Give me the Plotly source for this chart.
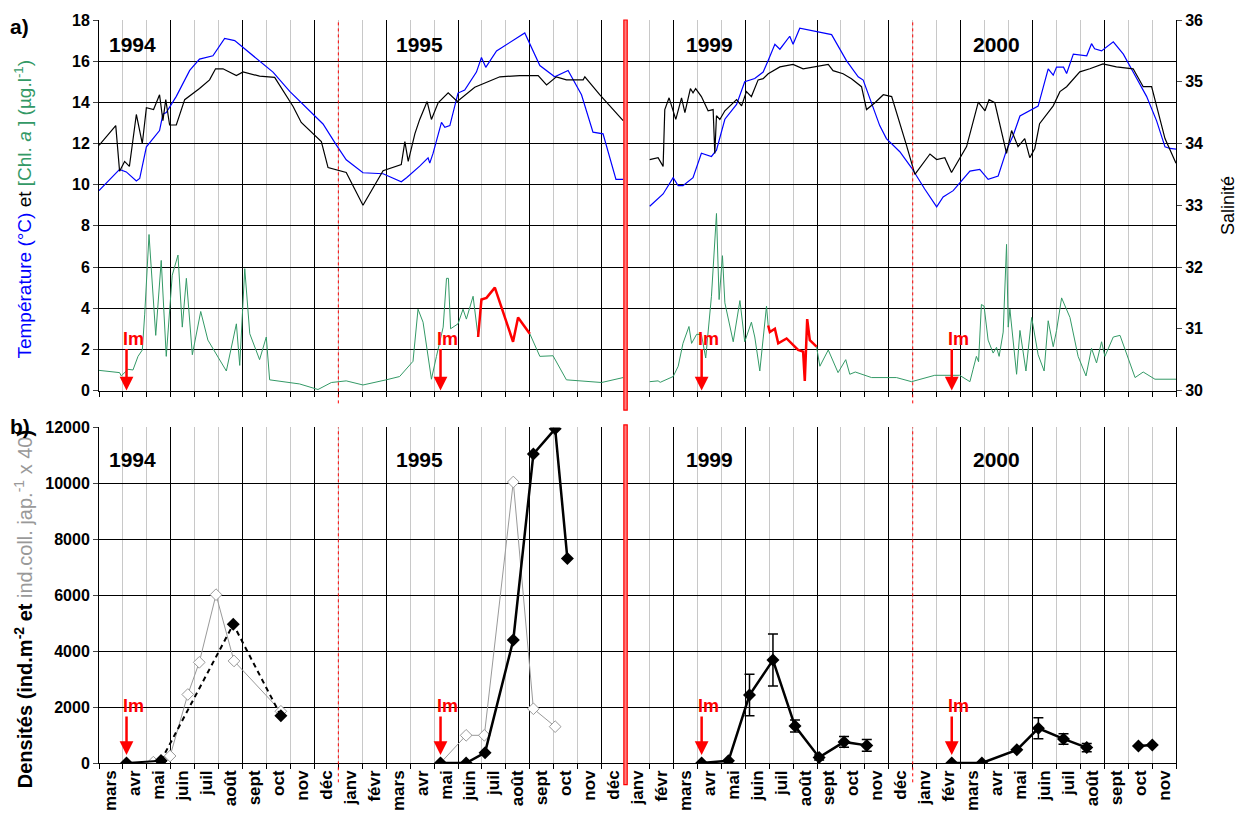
import plotly.graph_objects as go

FONT = "Liberation Sans, Arial, sans-serif"

# x positions are in months counted from 1 March 1994 (0 = start of "mars" 1994);
# the axis is broken between déc 1995 (index 21) and janv 1999 (index 22).
months = ["mars", "avr", "mai", "juin", "juil", "août", "sept", "oct", "nov", "déc",
          "janv", "févr", "mars", "avr", "mai", "juin", "juil", "août", "sept", "oct", "nov", "déc",
          "janv", "févr", "mars", "avr", "mai", "juin", "juil", "août", "sept", "oct", "nov", "déc",
          "janv", "févr", "mars", "avr", "mai", "juin", "juil", "août", "sept", "oct", "nov"]
quarter_months = ["mars", "juin", "sept", "déc"]
year_break = 22
new_year = [10, 34]

years = ["1994", "1995", "1999", "2000"]
year_x = [1.4, 13.4, 25.5, 37.5]
im_x = [1.15, 14.27, 25.18, 35.63]

# ---- a) temperature (°C) ----
temp_9495_x = [0, 0.86, 1.14, 1.56, 1.7, 1.98, 2.53, 2.67, 2.81, 3.23, 3.79, 4.2, 4.76, 5.25, 5.67,
               6.43, 7.27, 7.97, 8.94, 9.36, 9.92, 10.33, 11.03, 11.87, 12.63, 12.85, 13.4, 13.75,
               13.82, 13.96, 14.31, 14.45, 14.66, 15.0, 15.28, 15.77, 15.98, 16.16, 16.61, 17.79,
               18.42, 19.04, 19.6, 20.16, 20.64, 21.06, 21.6, 21.9]
temp_9495 = [9.71, 10.74, 10.62, 10.18, 10.3, 11.84, 12.63, 13.42, 13.5, 14.29, 15.55, 16.1, 16.26,
             17.1, 17.0, 16.26, 15.47, 14.53, 13.42, 12.95, 11.92, 11.21, 10.58, 10.53, 10.14, 10.34,
             10.9, 11.3, 11.05, 11.53, 13.03, 12.79, 12.87, 14.45, 14.6, 15.47, 16.18, 15.7, 16.5,
             17.37, 15.79, 15.24, 15.55, 14.37, 12.55, 12.47, 10.26, 10.26]
temp_9900_x = [23.01, 23.57, 23.99, 24.2, 24.4, 24.82, 25.17, 25.59, 25.8, 26.15, 26.64, 26.98, 27.4,
               27.75, 27.96, 28.24, 28.45, 28.86, 29.0, 29.28, 30.61, 31.23, 31.72, 31.93, 32.62,
               32.9, 33.46, 33.95, 34.5, 35.0, 35.27, 35.69, 36.39, 36.8, 37.15, 37.57, 37.92, 38.2,
               38.48, 38.89, 39.24, 39.66, 39.87, 40.01, 40.3, 40.43, 40.71, 41.27, 41.47, 41.6,
               41.89, 42.38, 42.8, 43.21, 43.77, 44.19, 44.54, 44.75, 45.0]
temp_9900 = [8.95, 9.55, 10.34, 9.95, 9.95, 10.34, 11.53, 11.37, 11.68, 13.18, 13.9, 15.0, 15.16,
             15.47, 16.03, 16.82, 16.58, 17.21, 16.82, 17.6, 17.29, 16.03, 15.24, 15.08, 12.87,
             12.24, 11.6, 10.82, 9.79, 8.92, 9.4, 9.71, 10.66, 10.74, 10.26, 10.42, 11.68, 12.4,
             13.34, 13.58, 13.82, 15.63, 15.32, 15.71, 15.71, 15.4, 16.34, 16.26, 16.85, 16.6,
             16.5, 16.94, 16.34, 15.47, 14.29, 13.1, 11.84, 11.76, 11.73]

# ---- a) salinity ----
sal_9495_x = [0, 0.7, 0.86, 1.07, 1.27, 1.56, 1.81, 1.98, 2.28, 2.53, 2.67, 2.79, 2.95, 3.23, 3.58,
              4.2, 4.62, 4.87, 5.18, 5.74, 6.02, 6.71, 7.34, 8.11, 8.45, 9.29, 9.57, 10.33, 11.03,
              11.87, 12.63, 12.78, 12.92, 13.2, 13.4, 13.71, 13.89, 14.17, 14.59, 14.97, 15.7,
              16.75, 17.58, 18.35, 18.7, 19.11, 19.53, 20.23, 20.3, 20.92, 21.9]
sal_9495 = [33.97, 34.29, 33.55, 33.71, 33.63, 34.47, 34.0, 34.58, 34.55, 34.79, 34.37, 34.71, 34.3,
            34.3, 34.71, 34.89, 35.03, 35.21, 35.21, 35.1, 35.16, 35.09, 35.07, 34.6, 34.34, 34.03,
            33.61, 33.53, 33.0, 33.56, 33.66, 34.03, 33.71, 34.16, 34.39, 34.68, 34.39, 34.66,
            34.82, 34.68, 34.91, 35.08, 35.1, 35.1, 34.95, 35.08, 35.03, 35.03, 35.08, 34.79, 34.37]
sal_9900_x = [23.01, 23.36, 23.57, 23.64, 23.82, 24.1, 24.34, 24.48, 24.71, 24.82, 24.93, 25.17,
              25.45, 25.66, 25.73, 25.8, 25.94, 26.15, 26.64, 26.85, 27.05, 27.26, 27.54, 27.75,
              27.96, 28.45, 29.0, 29.42, 30.47, 30.67, 31.09, 31.44, 31.86, 32.07, 32.42, 32.77,
              33.12, 33.46, 33.74, 34.09, 34.72, 35.0, 35.34, 35.62, 36.25, 36.74, 37.02, 37.19,
              37.43, 37.92, 38.13, 38.4, 38.68, 38.89, 39.1, 39.3, 39.87, 40.15, 40.43, 40.98,
              41.4, 41.95, 42.51, 43.21, 43.63, 43.98, 44.54, 45.0]
sal_9900 = [33.74, 33.77, 33.63, 34.55, 34.74, 34.39, 34.74, 34.5, 34.89, 34.82, 34.89, 34.76,
            34.53, 34.55, 33.84, 34.45, 34.39, 34.53, 34.71, 34.61, 34.84, 34.76, 35.03, 35.05,
            35.13, 35.24, 35.28, 35.21, 35.28, 35.18, 35.13, 35.05, 34.92, 34.55, 34.66, 34.79,
            34.76, 34.34, 33.97, 33.5, 33.83, 33.74, 33.77, 33.53, 33.95, 34.67, 34.53, 34.71,
            34.66, 33.84, 34.21, 33.95, 34.08, 33.77, 33.92, 34.32, 34.61, 34.84, 34.92, 35.16,
            35.21, 35.29, 35.24, 35.21, 34.92, 34.92, 34.08, 33.68]

# ---- a) chlorophyll a (µg/l) ----
chl_9495_x = [0, 0.86, 0.93, 1.21, 1.42, 1.63, 1.81, 1.91, 2.09, 2.37, 2.6, 2.81, 3.06, 3.3, 3.48,
              3.65, 3.9, 4.25, 4.55, 5.32, 5.74, 5.88, 6.09, 6.3, 6.71, 6.99, 7.13, 8.38, 9.15, 9.71,
              10.33, 11.03, 12.0, 12.56, 13.12, 13.33, 13.54, 13.89, 14.1, 14.38, 14.52, 14.6,
              14.69, 15.0, 15.21, 15.35, 15.63, 15.84, 15.98, 16.19, 16.54, 17.3, 17.51, 18.0,
              18.42, 18.97, 19.53, 20.37, 21.0, 21.9]
chl_9495 = [0.98, 0.87, 0.71, 1.03, 1.0, 1.66, 1.97, 3.71, 7.58, 2.68, 6.32, 1.66, 5.6, 6.58, 3.08,
            5.45, 1.74, 3.84, 2.45, 0.95, 3.24, 1.22, 5.92, 2.76, 1.5, 2.6, 0.52, 0.32, 0.05, 0.39,
            0.47, 0.27, 0.52, 0.68, 1.42, 3.95, 3.32, 0.55, 1.66, 3.08, 5.45, 5.45, 3.0, 3.24, 3.95,
            3.47, 4.58, 2.6, 4.42, 4.5, 5.0, 2.37, 3.55, 2.76, 1.66, 1.69, 0.52, 0.43, 0.39, 0.63]
chl_9900_x = [23.01, 23.36, 23.45, 23.99, 24.2, 24.4, 24.65, 24.76, 24.97, 25.17, 25.35, 25.59,
              25.8, 25.91, 26.05, 26.15, 26.5, 26.78, 26.98, 27.26, 27.4, 27.61, 27.89, 27.96,
              28.03, 28.24, 28.38, 28.73, 29.21, 29.42, 29.49, 29.59, 29.7, 29.98, 30.12, 30.47,
              30.88, 31.2, 31.37, 31.6, 32.28, 33.32, 33.95, 34.92, 35.96, 36.39, 36.52, 36.66,
              36.75, 36.87, 36.98, 37.15, 37.36, 37.5, 37.61, 37.78, 37.92, 37.99, 38.06, 38.34,
              38.48, 38.73, 38.97, 39.24, 39.49, 39.66, 39.87, 40.01, 40.22, 40.57, 40.91, 41.24,
              41.47, 41.68, 41.89, 42.03, 42.38, 42.66, 43.29, 43.63, 44.12, 45.0]
chl_9900 = [0.43, 0.47, 0.4, 0.68, 1.18, 2.29, 3.11, 2.29, 2.73, 2.73, 1.58, 4.58, 8.6, 4.42, 6.55,
            4.26, 2.37, 4.37, 2.37, 3.32, 2.6, 0.95, 4.1, 3.16, 2.84, 3.0, 2.29, 2.53, 1.97, 1.89,
            0.47, 3.47, 2.45, 2.13, 1.18, 1.97, 0.87, 1.5, 0.79, 0.9, 0.63, 0.63, 0.43, 0.74, 0.74,
            0.43, 1.03, 1.66, 1.4, 4.18, 4.1, 2.45, 1.82, 2.1, 1.66, 2.84, 7.1, 3.08, 3.95, 0.79,
            2.92, 0.95, 3.55, 1.74, 0.95, 3.39, 2.13, 2.92, 4.5, 3.55, 1.66, 0.71, 2.05, 1.34,
            2.37, 1.66, 2.6, 2.68, 0.63, 0.9, 0.55, 0.55]
# periods drawn in bold red
red_periods = [(15.84, 18.0), (27.96, 29.98)]

# ---- b) densities ----
d94_x = [1.15, 2.59, 5.61, 7.6]
d94 = [0, 80, 4960, 1690]
c94_x = [2.27, 2.97, 3.71, 4.19, 4.89, 5.64, 7.6]
c94 = [30, 250, 2450, 3600, 6020, 3650, 1850]
d95_x = [14.27, 15.34, 16.13, 17.31, 18.15, 19.06, 19.57]
d95 = [0, 0, 370, 4400, 11050, 11950, 7310]
c95_x = [14.27, 15.34, 16.1, 17.31, 18.15, 19.06]
c95 = [0, 990, 990, 10050, 1940, 1300]
d99_x = [25.18, 26.3, 27.18, 28.16, 29.08, 30.09, 31.13, 32.08]
d99 = [0, 80, 2430, 3680, 1320, 200, 755, 630]
d99_err = [0, 0, 740, 930, 215, 90, 190, 210]
d00_x = [35.63, 36.89, 38.35, 39.25, 40.3, 41.27, None, 43.43, 44.01]
d00 = [0, 0, 470, 1240, 860, 550, None, 605, 640]
d00_err = [0, 0, 0, 375, 190, 150, 0, 0, 0]

BLUE = "#0000ff"
GREEN = "#339966"
GREY = "#999999"

fig = go.Figure()

def line(x, y, color, width, xa="x", ya="y", dash=None):
    fig.add_trace(go.Scatter(x=x, y=y, mode="lines", xaxis=xa, yaxis=ya,
                             line=dict(color=color, width=width, dash=dash),
                             hoverinfo="skip"))

for x, y in [(chl_9495_x, chl_9495), (chl_9900_x, chl_9900)]:
    line(x, y, GREEN, 1)
    for lo, hi in red_periods:
        seg = [(a, b) for a, b in zip(x, y) if lo <= a <= hi]
        if seg:
            line([s[0] for s in seg], [s[1] for s in seg], "#ff0000", 2.5)
line(temp_9495_x, temp_9495, BLUE, 1.2)
line(temp_9900_x, temp_9900, BLUE, 1.2)
line(sal_9495_x, sal_9495, "black", 1.2, ya="y3")
line(sal_9900_x, sal_9900, "black", 1.2, ya="y3")

# panel b
def dens(x, y, color, width, symbol_fill, dash=None, err=None, size=10, mline=0):
    fig.add_trace(go.Scatter(
        x=x, y=y, mode="lines+markers", xaxis="x2", yaxis="y2",
        line=dict(color=color, width=width, dash=dash),
        marker=dict(symbol="diamond", size=size, color=symbol_fill,
                    line=dict(color=color, width=mline)),
        error_y=dict(type="data", array=err, visible=err is not None,
                     color="black", thickness=1.5, width=5),
        connectgaps=False, hoverinfo="skip"))

dens(c94_x, c94, GREY, 1, "white", size=9, mline=1)
dens(c95_x, c95, GREY, 1, "white", size=9, mline=1)
dens(d94_x[:2], d94[:2], "black", 2, "black")
dens(d94_x[1:], d94[1:], "black", 2, "black", dash="5px,4px")
dens(d95_x, d95, "black", 2.5, "black")
dens(d99_x, d99, "black", 2.5, "black", err=d99_err)
dens(d00_x, d00, "black", 2.5, "black", err=d00_err)

# carrier for the month-label axis
fig.add_trace(go.Scatter(x=[0.5], y=[None], mode="markers", xaxis="x3", yaxis="y2",
                         hoverinfo="skip"))

# grid: gray line at every month boundary, black at each quarter
quarters = [i for i, m in enumerate(months) if m in quarter_months] + [len(months)]
xcommon = dict(range=[0, len(months)], tickmode="array", tickvals=quarters,
               showgrid=True, gridcolor="black", gridwidth=1,
               ticks="outside", ticklen=5, tickcolor="black",
               showticklabels=False, showline=True, linecolor="black", zeroline=False,
               minor=dict(tickmode="linear", tick0=0, dtick=1, showgrid=True,
                          gridcolor="#c8c8c8", gridwidth=1, ticks="outside",
                          ticklen=5, tickcolor="black"))
tickfont = dict(family=FONT, size=16, color="black", weight="bold")
ycommon = dict(showgrid=True, gridcolor="black", gridwidth=1, ticks="outside", ticklen=5,
               showline=True, linecolor="black", zeroline=False, tickfont=tickfont)

top_dom = [0.5013, 1.0]
bot_dom = [0.0, 0.4516]

fig.update_layout(
    width=1246, height=823,
    margin=dict(l=99, r=70, t=17, b=42),
    plot_bgcolor="white", paper_bgcolor="white",
    showlegend=False,
    font=dict(family=FONT, color="black"),
    xaxis=dict(xcommon, anchor="y", domain=[0, 1]),
    xaxis2=dict(xcommon, anchor="y2", domain=[0, 1]),
    xaxis3=dict(range=[0, len(months)], anchor="y2", overlaying="x2", side="bottom",
                tickmode="array", tickvals=[i + 0.5 for i in range(len(months))],
                ticktext=months, tickangle=-90, ticks="", showgrid=False,
                showline=False, zeroline=False, ticklabelstandoff=3,
                tickfont=dict(family=FONT, size=17, color="black", weight="bold")),
    yaxis=dict(ycommon, domain=top_dom, range=[0, 18], dtick=2, anchor="x"),
    yaxis3=dict(range=[30, 36], dtick=1, overlaying="y", side="right", anchor="x",
                showgrid=False, ticks="outside", ticklen=5, showline=True,
                linecolor="black", zeroline=False, tickfont=tickfont),
    yaxis2=dict(ycommon, domain=bot_dom, range=[0, 12000], dtick=2000, anchor="x2",
                mirror=True, tickformat="d"),
)

# vertical separators
shapes = []
for xv in new_year:
    shapes.append(dict(type="line", xref="x", yref="paper", x0=xv, x1=xv, y0=0.484, y1=1,
                       line=dict(color="#ff0000", width=1, dash="dot")))
    shapes.append(dict(type="line", xref="x", yref="paper", x0=xv, x1=xv, y0=-0.026,
                       y1=bot_dom[1], line=dict(color="#ff0000", width=1, dash="dot")))
for y0, y1 in [(0.475, 1.0), (-0.029, 0.455)]:
    shapes.append(dict(type="rect", xref="x", yref="paper", x0=year_break - 0.07,
                       x1=year_break + 0.07, y0=y0, y1=y1, layer="above",
                       line=dict(color="#ff0000", width=1.2), fillcolor="#ff8080"))
fig.update_layout(shapes=shapes)

ann = []
for yr, xv in zip(years, year_x):
    ann.append(dict(x=xv, y=16.8, xref="x", yref="y", text=f"<b>{yr}</b>", showarrow=False,
                    font=dict(size=21, color="black")))
    ann.append(dict(x=xv, y=10850, xref="x2", yref="y2", text=f"<b>{yr}</b>", showarrow=False,
                    font=dict(size=21, color="black")))
for xv in im_x:
    for xr, yr, tail, stand in [("x", "y", -43, 0), ("x2", "y2", -48, 8)]:
        ann.append(dict(x=xv, y=0, xref=xr, yref=yr, text="", showarrow=True, ax=0, ay=tail,
                        arrowhead=2, arrowsize=1.1, arrowwidth=2.5, arrowcolor="#ff0000",
                        standoff=stand))
        ann.append(dict(x=xv, y=0, xref=xr, yref=yr, text="<b>Im</b>", showarrow=False,
                        xanchor="left", yanchor="bottom", xshift=-6, yshift=-tail - 3,
                        font=dict(size=18, color="#ff0000")))

ann += [
    dict(x=-0.0705, y=0.745, xref="paper", yref="paper", textangle=-90, showarrow=False,
         xanchor="center", yanchor="middle",
         text=f'<span style="color:{BLUE}">Température (°C)</span> et '
              f'<span style="color:{GREEN}">[Chl. <i>a</i> ] (µg.l<sup>-1</sup>)</span>',
         font=dict(size=19, color="black")),
    dict(x=-0.0705, y=0.207, xref="paper", yref="paper", textangle=-90, showarrow=False,
         xanchor="center", yanchor="middle",
         text=f'<b>Densités (ind.m<sup>-2</sup> et </b>'
              f'<span style="color:{GREY}">ind.coll. jap.<sup>-1</sup> x 40</span><b>)</b>',
         font=dict(size=20, color="black")),
    dict(x=1.0485, y=0.75, xref="paper", yref="paper", textangle=-90, showarrow=False,
         xanchor="center", yanchor="middle",
         text="Salinité", font=dict(size=18, color="black")),
    dict(x=-0.0735, y=0.991, xref="paper", yref="paper", showarrow=False,
         xanchor="center", yanchor="middle",
         text="<b>a)</b>", font=dict(size=21, color="black")),
    dict(x=-0.0735, y=0.4525, xref="paper", yref="paper", showarrow=False,
         xanchor="center", yanchor="middle",
         text="<b>b)</b>", font=dict(size=21, color="black")),
]
fig.update_layout(annotations=ann)

# drop the default page margin so the figure fills the window exactly
fig.write_html("out.html", config={"displayModeBar": False},
               post_script="document.body.style.margin='0';"
                           "document.body.style.overflow='hidden';")
